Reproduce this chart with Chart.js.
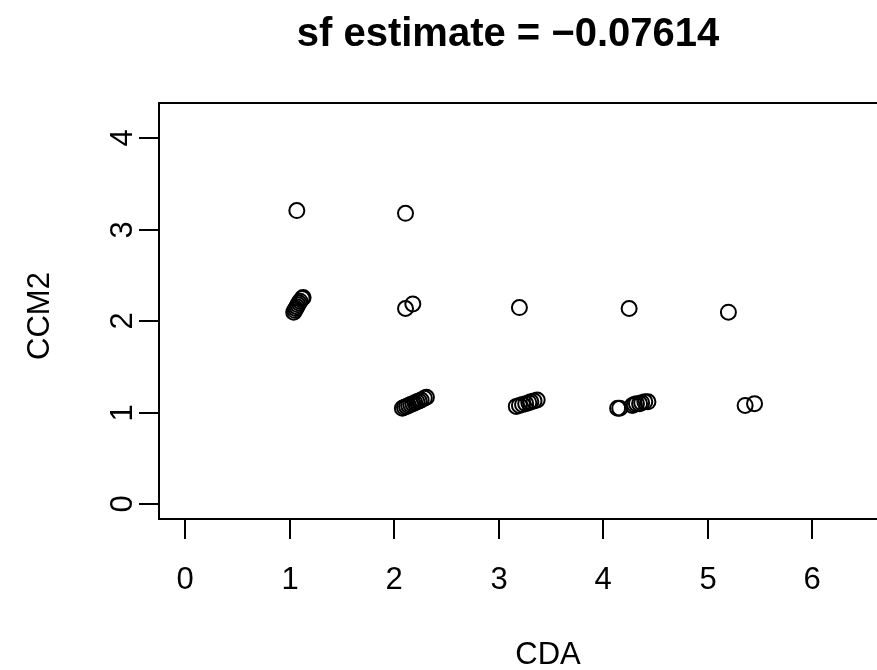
<!DOCTYPE html>
<html>
<head>
<meta charset="utf-8">
<script src="https://cdn.jsdelivr.net/npm/chart.js@4.4.1/dist/chart.umd.min.js"></script>
<style>
  html, body { margin: 0; padding: 0; background: #fff; overflow: hidden; }
  #wrap { width: 877px; height: 670px; }
</style>
</head>
<body>
<div id="wrap"><canvas id="plot" width="877" height="670"></canvas></div>
<script>
// --- datos ---
const cdaValues = [
  1.07, 2.11, 2.11, 2.18, 3.20, 4.25, 5.20,
  1.04, 1.05, 1.06, 1.07, 1.08, 1.09, 1.10, 1.12, 1.13,
  2.08, 2.10, 2.12, 2.14, 2.16, 2.18, 2.20, 2.22, 2.24, 2.26, 2.29, 2.31,
  3.17, 3.20, 3.23, 3.26, 3.29, 3.31, 3.34, 3.37,
  4.14, 4.16, 4.28, 4.30, 4.32, 4.35, 4.37, 4.40, 4.43,
  5.36, 5.45
];
const ccm2Values = [
  3.21, 3.18, 2.14, 2.19, 2.15, 2.14, 2.10,
  2.10, 2.12, 2.14, 2.16, 2.18, 2.20, 2.22, 2.25, 2.26,
  1.05, 1.06, 1.07, 1.08, 1.09, 1.10, 1.11, 1.12, 1.13, 1.14, 1.16, 1.17,
  1.07, 1.08, 1.09, 1.10, 1.11, 1.12, 1.13, 1.14,
  1.05, 1.05, 1.08, 1.09, 1.10, 1.10, 1.11, 1.12, 1.12,
  1.08, 1.10
];
const xTicks = [0, 1, 2, 3, 4, 5, 6];
const yTicks = [0, 1, 2, 3, 4];
const mainTitle = 'sf estimate = \u22120.07614';
const xLabel = 'CDA';
const yLabel = 'CCM2';

const FONT = '"Liberation Sans", Arial, Helvetica, sans-serif';

// ejes estilo R base: caja, ticks hacia afuera, etiquetas del eje y giradas
const baseAxes = {
  id: 'baseAxes',
  afterDraw(chart) {
    const ctx = chart.ctx;
    const area = chart.chartArea;
    const sx = chart.scales.x;
    const sy = chart.scales.y;
    ctx.save();
    ctx.strokeStyle = '#000';
    ctx.fillStyle = '#000';
    ctx.lineWidth = 2;

    // caja (el borde derecho queda fuera del lienzo)
    ctx.beginPath();
    ctx.moveTo(area.right + 2, area.top);
    ctx.lineTo(area.left, area.top);
    ctx.lineTo(area.left, area.bottom);
    ctx.lineTo(area.right + 2, area.bottom);
    ctx.stroke();

    // eje x
    ctx.font = '31px ' + FONT;
    ctx.textAlign = 'center';
    ctx.textBaseline = 'middle';
    xTicks.forEach(v => {
      const px = Math.round(sx.getPixelForValue(v));
      ctx.beginPath();
      ctx.moveTo(px, area.bottom);
      ctx.lineTo(px, area.bottom + 20);
      ctx.stroke();
      ctx.fillText(String(v), px, 580);
    });

    // eje y
    yTicks.forEach(v => {
      const py = Math.round(sy.getPixelForValue(v));
      ctx.beginPath();
      ctx.moveTo(area.left, py);
      ctx.lineTo(area.left - 20, py);
      ctx.stroke();
      ctx.save();
      ctx.translate(123, py);
      ctx.rotate(-Math.PI / 2);
      ctx.fillText(String(v), 0, 0);
      ctx.restore();
    });

    // titulos de ejes
    ctx.fillText(xLabel, 548, 655);
    ctx.save();
    ctx.translate(40, 316);
    ctx.rotate(-Math.PI / 2);
    ctx.fillText(yLabel, 0, 0);
    ctx.restore();

    // titulo principal
    ctx.font = 'bold 40px ' + FONT;
    ctx.fillText(mainTitle, 508, 35);
    ctx.restore();
  }
};

const points = cdaValues.map((x, i) => ({ x: x, y: ccm2Values[i] }));

new Chart(document.getElementById('plot'), {
  type: 'scatter',
  data: {
    datasets: [{
      data: points,
      pointStyle: 'circle',
      pointRadius: 7.5,
      pointHoverRadius: 7.5,
      pointBorderWidth: 2,
      pointBorderColor: '#000',
      pointBackgroundColor: 'rgba(0,0,0,0)'
    }]
  },
  options: {
    responsive: false,
    animation: false,
    layout: { autoPadding: false, padding: { left: 159, top: 103, right: 0, bottom: 151 } },
    plugins: {
      legend: { display: false },
      tooltip: { enabled: false },
      title: { display: false }
    },
    scales: {
      x: { type: 'linear', display: false, min: -0.249, max: 6.622 },
      y: { type: 'linear', display: false, min: -0.161, max: 4.386 }
    }
  },
  plugins: [baseAxes]
});
</script>
</body>
</html>
